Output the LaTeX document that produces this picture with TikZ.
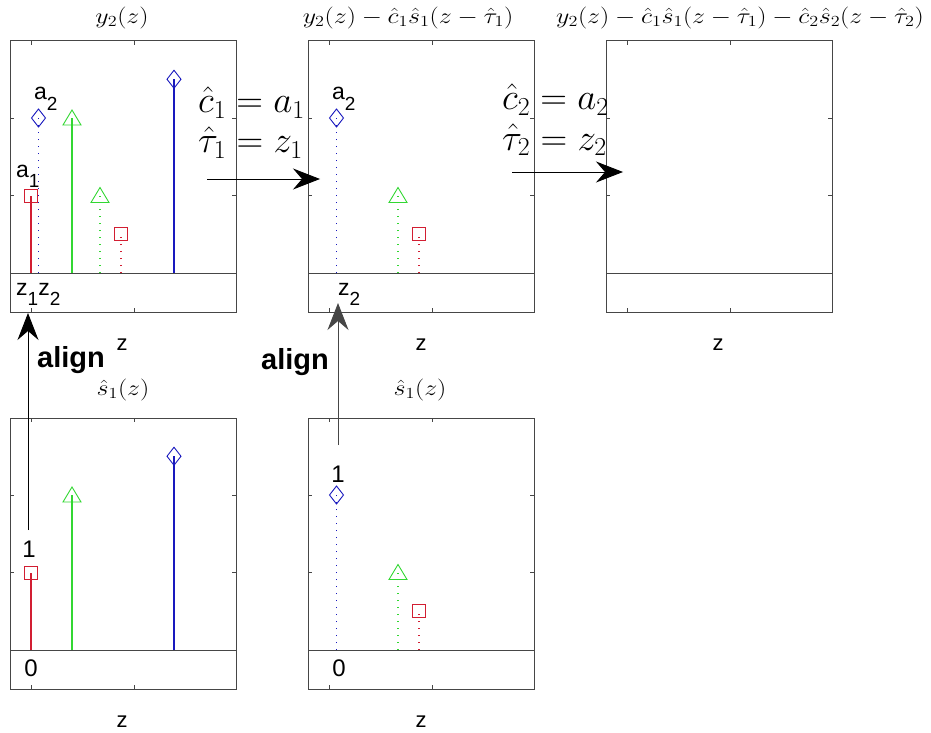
\RequirePackage{fix-cm}
\documentclass[tikz,border=0pt]{standalone}
\usepackage{amsmath}
\usepackage{fontspec}
\newfontfamily\arial{Liberation Sans}
\usetikzlibrary{arrows.meta}
\definecolor{stemred}{RGB}{210,30,50}
\definecolor{stemgreen}{RGB}{50,215,50}
\definecolor{stemblue}{RGB}{25,25,190}
\definecolor{framegray}{RGB}{70,70,70}
\tikzset{
    panelframe/.style={draw=framegray, line width=1pt},
    axtick/.style={draw=framegray, line width=0.6pt},
    solidstem/.style={line width=1.2pt},
    dotstem/.style={line width=1.3pt, dash pattern=on 1pt off 6pt},
    paneltitle/.style={font=\fontsize{22}{26}\selectfont},
    eqn/.style={font=\fontsize{37}{40}\selectfont, inner sep=0pt},
    ptlabel/.style={font=\arial\fontsize{23}{25}\selectfont, inner sep=0pt},
    axlabel/.style={font=\arial\fontsize{22}{24}\selectfont, inner sep=0pt},
    alignlbl/.style={font=\arial\bfseries\fontsize{29}{32}\selectfont, inner sep=0pt},
    flow/.style={-{Stealth[length=27pt, width=21pt, inset=9pt]}, line width=0.9pt},
    sqm/.pic={\draw[solid] (-6.5,-6.5) rectangle (6.5,6.5);},
    dmm/.pic={\draw[solid] (0,-9) -- (7,0) -- (0,9) -- (-7,0) -- cycle;},
    trm/.pic={\draw[solid] (0,-8) -- (9,7) -- (-9,7) -- cycle;}
}
\newcommand{\lowidx}[1]{\raisebox{-10pt}{\fontsize{19}{19}\selectfont #1}}
% stems of s_1 (solid) and of the second echo (dotted), panel at left x / baseline y
\newcommand{\solidstems}[2]{%
    \foreach \dx/\v/\col/\m in {21/1/stemred/sqm, 62/2/stemgreen/trm, 164/2.5/stemblue/dmm} {
        \draw[draw=\col, solidstem] (#1+\dx,#2) -- (#1+\dx,#2-77.5*\v);
        \pic[draw=\col, line width=0.9pt] at (#1+\dx,#2-77.5*\v) {\m};
    }}
\newcommand{\dottedstems}[2]{%
    \foreach \dx/\v/\col/\m in {28.5/2/stemblue/dmm, 90/1/stemgreen/trm, 111/0.5/stemred/sqm} {
        \draw[draw=\col, dotstem] (#1+\dx,#2) -- (#1+\dx,#2-77.5*\v);
        \pic[draw=\col, line width=0.9pt] at (#1+\dx,#2-77.5*\v) {\m};
    }}

\begin{document}
\begin{tikzpicture}[x=1pt, y=-1pt]
    \useasboundingbox (0,0) rectangle (931,733);

    % axes boxes
    \foreach \L/\B in {10/273, 308/273, 606/273, 10/650, 308/650} {
        \draw[panelframe] (\L,\B-232) rectangle (\L+226,\B+39);
        \draw[panelframe] (\L,\B) -- (\L+226,\B);
        \foreach \t in {21,124} {
            \draw[axtick] (\L+\t,\B-232) -- ++(0,4);
            \draw[axtick] (\L+\t,\B+39) -- ++(0,-4);
        }
        \foreach \v in {1,2} {
            \draw[axtick] (\L,\B-77.5*\v) -- ++(4,0);
            \draw[axtick] (\L+226,\B-77.5*\v) -- ++(-4,0);
        }
    }

    \solidstems{10}{273}
    \dottedstems{10}{273}
    \dottedstems{308}{273}
    \solidstems{10}{650}
    \dottedstems{308}{650}

    % titles
    \node[paneltitle] (ttl1) at (122,18) {\scalebox{1.18}[1]{$y_2(z)$}};
    \node[paneltitle] (ttl2) at (408,18) {\scalebox{1.18}[1]{$y_2(z)-\hat{c}_1\hat{s}_1(z-\hat{\tau}_1)$}};
    \node[paneltitle] (ttl3) at (740,18) {\scalebox{1.18}[1]{$y_2(z)-\hat{c}_1\hat{s}_1(z-\hat{\tau}_1)-\hat{c}_2\hat{s}_2(z-\hat{\tau}_2)$}};
    \node[paneltitle] (ttl4) at (123,390) {\scalebox{1.18}[1]{$\hat{s}_1(z)$}};
    \node[paneltitle] (ttl5) at (420,390) {\scalebox{1.18}[1]{$\hat{s}_1(z)$}};

    % axis labels
    \node[axlabel, anchor=base] (xl1) at (122,350) {z};
    \node[axlabel, anchor=base] (xl2) at (421,350) {z};
    \node[axlabel, anchor=base] (xl3) at (718,350) {z};
    \node[axlabel, anchor=base] (xl4) at (122,727) {z};
    \node[axlabel, anchor=base] (xl5) at (421,727) {z};

    % peak labels
    \node[ptlabel, anchor=base west] (pa2) at (34,100) {a\lowidx{2}};
    \node[ptlabel, anchor=base west] (pa1) at (16,177) {a\lowidx{1}};
    \node[ptlabel, anchor=base west] (pz12) at (16,295) {z\lowidx{1}z\lowidx{2}};
    \node[ptlabel, anchor=base west] (qa2) at (332,100) {a\lowidx{2}};
    \node[ptlabel, anchor=base west] (qz2) at (338,295) {z\lowidx{2}};
    \node[ptlabel, font=\arial\fontsize{24}{26}\selectfont, anchor=base] (one1) at (29,557) {1};
    \node[ptlabel, font=\arial\fontsize{24}{26}\selectfont, anchor=base] (zero1) at (31,676) {0};
    \node[ptlabel, font=\arial\fontsize{24}{26}\selectfont, anchor=base] (one2) at (338,482) {1};
    \node[ptlabel, font=\arial\fontsize{24}{26}\selectfont, anchor=base] (zero2) at (339,676) {0};

    % estimates
    \node[eqn, anchor=base west] (est1c) at (198,113) {$\hat{c}_1 = a_1$};
    \node[eqn, anchor=base west] (est1t) at (198,153) {$\hat{\tau}_1 = z_1$};
    \node[eqn, anchor=base west] (est2c) at (502,110) {$\hat{c}_2 = a_2$};
    \node[eqn, anchor=base west] (est2t) at (502,150) {$\hat{\tau}_2 = z_2$};

    \node[alignlbl, anchor=base west] (al1) at (37,367) {align};
    \node[alignlbl, anchor=base west] (al2) at (261,369) {align};

    % arrows
    \coordinate (up1from) at (28,530);
    \coordinate (up1to) at (28,313);
    \coordinate (up2from) at (338,445);
    \coordinate (up2to) at (338,303);
    \coordinate (rt1from) at (207,179);
    \coordinate (rt1to) at (320,179);
    \coordinate (rt2from) at (512,172);
    \coordinate (rt2to) at (623,172);
    \draw[flow] (up1from) -- (up1to);
    \draw[flow, draw=framegray] (up2from) -- (up2to);
    \draw[flow] (rt1from) -- (rt1to);
    \draw[flow] (rt2from) -- (rt2to);
\end{tikzpicture}
\end{document}
